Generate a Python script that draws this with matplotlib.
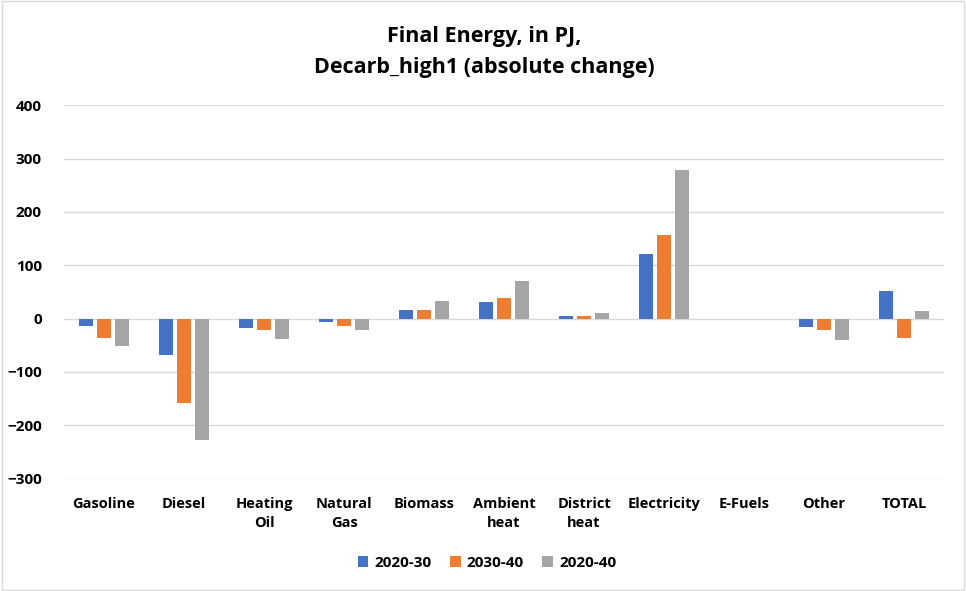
import matplotlib.pyplot as plt
import numpy as np

plt.rcParams['font.family'] = ['Open Sans', 'DejaVu Sans']

categories = ["Gasoline", "Diesel", "Heating\nOil", "Natural\nGas", "Biomass",
              "Ambient\nheat", "District\nheat", "Electricity", "E-Fuels", "Other", "TOTAL"]
s_2020_30 = [-13, -69, -17, -7, 17, 32, 4, 122, 0, -16, 52]
s_2030_40 = [-37, -159, -21, -13, 16, 38, 4, 156, 0, -22, -37]
s_2020_40 = [-52, -228, -38, -21, 33, 71, 10, 279, 0, -40, 14]
series = [("2020-30", s_2020_30, "#4472C4"),
          ("2030-40", s_2030_40, "#ED7D31"),
          ("2020-40", s_2020_40, "#A5A5A5")]

fig = plt.figure(figsize=(9.66, 5.91), dpi=100)
ax = fig.add_axes([0.0663, 0.19, 0.911, 0.632])

x = np.arange(len(categories))
width = 0.174
step = 0.224
for i, (name, vals, color) in enumerate(series):
    ax.bar(x + (i - 1) * step, vals, width, color=color, label=name,
           linewidth=0, zorder=3)

ax.set_xlim(-0.5, len(categories) - 0.5)
ax.set_ylim(-300, 400)
ax.set_yticks(range(-300, 401, 100))
ax.yaxis.grid(True, color="#D9D9D9", linewidth=1, zorder=0)
ax.set_xticks(x)
ax.set_xticklabels(categories, fontweight="bold", fontsize=10.5, linespacing=1.45)
for lab in ax.get_yticklabels():
    lab.set_fontweight("bold")
    lab.set_fontsize(11)
ax.tick_params(axis="x", length=0, pad=13)
ax.tick_params(axis="y", length=0, pad=16)
for sp in ax.spines.values():
    sp.set_visible(False)

fig.text(0.501, 0.912, "Final Energy, in PJ,\nDecarb_high1 (absolute change)",
         ha="center", va="center", fontsize=15.5, fontweight="bold", linespacing=1.6)

leg = fig.legend(loc="center", bbox_to_anchor=(0.504, 0.048), ncol=3, frameon=False,
                 prop={"weight": "bold", "size": 11}, handlelength=0.7, handleheight=0.7,
                 columnspacing=1.2, handletextpad=0.4)

border = plt.Rectangle((0.002, 0.002), 0.996, 0.996, transform=fig.transFigure,
                       fill=False, edgecolor="#D9D9D9", linewidth=1)
fig.patches.append(border)

fig.savefig("out.png", dpi=100)
